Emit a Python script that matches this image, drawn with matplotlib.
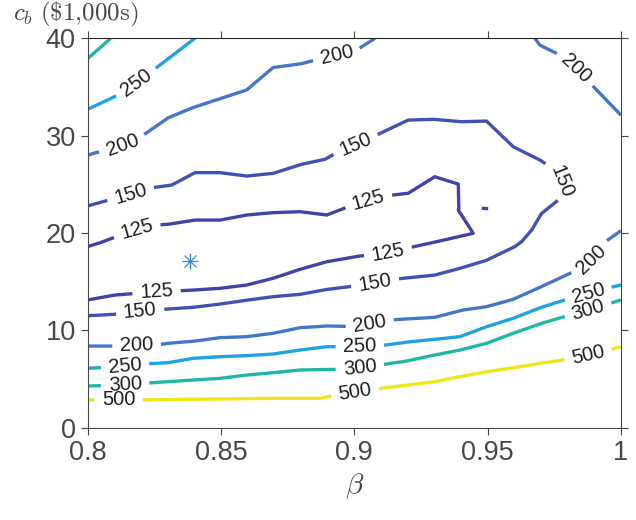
import matplotlib
matplotlib.use("Agg")
import matplotlib.pyplot as plt
from matplotlib.contour import ContourSet
import numpy as np

plt.rcParams["mathtext.fontset"] = "cm"

# ---- data: contour levels and their traced paths (beta, c_b) ----
levels = [125, 150, 200, 250, 300, 500]

# level 125: main open curve, plus a tiny island
b125_main = [0.8, 0.8047, 0.8184, 0.8259, 0.8303, 0.8403, 0.8497, 0.8597, 0.8696, 0.8797, 0.8897,
             0.8972, 0.9053, 0.9121, 0.9202, 0.9302, 0.9390, 0.9392, 0.9390, 0.9446,
             0.9309, 0.9196, 0.9127, 0.9065, 0.9021, 0.8897, 0.8797, 0.8696, 0.8597, 0.8497,
             0.8397, 0.8259, 0.8184, 0.8103, 0.8]
c125_main = [18.6, 19.0, 20.4, 20.82, 20.9, 21.33, 21.33, 21.85, 22.09, 22.19, 21.85,
             22.64, 23.4, 23.83, 24.08, 25.78, 25.03, 22.54, 22.36, 19.97,
             19.11, 18.43, 18.0, 17.74, 17.64, 17.05, 16.27, 15.35, 14.66, 14.32,
             14.14, 13.95, 13.8, 13.63, 13.12]
b125_isl = [0.9478, 0.9502]
c125_isl = [22.54, 22.5]

b150 = [0.8, 0.8159, 0.8228, 0.8316, 0.8403, 0.8497, 0.8597, 0.8696, 0.8803, 0.8890, 0.8940,
        0.9003, 0.9071, 0.9202, 0.9296, 0.9403, 0.9496, 0.9596, 0.9696, 0.9734, 0.9777,
        0.9796, 0.9702, 0.9665, 0.9627, 0.9602, 0.9496, 0.9396, 0.9302, 0.9146, 0.9078,
        0.9003, 0.8897, 0.8797, 0.8696, 0.8597, 0.8497, 0.8397, 0.8197, 0.8122, 0.8103, 0.8]
c150 = [22.77, 24.0, 24.6, 24.93, 26.2, 26.2, 25.85, 26.13, 27.06, 27.57, 28.35,
        29.1, 29.9, 31.6, 31.68, 31.43, 31.5, 28.86, 27.5, 26.8, 25.4,
        24.08, 22.0, 20.3, 19.1, 18.6, 17.2, 16.37, 15.68, 15.24, 14.9,
        14.56, 14.2, 13.7, 13.46, 13.1, 12.7, 12.37, 12.0, 11.75, 11.65, 11.5]

b200_top = [0.8, 0.8128, 0.8197, 0.8303, 0.8397, 0.8497, 0.8597, 0.8696, 0.8803, 0.8872,
            0.8934, 0.9003, 0.9078]
c200_top = [28.0, 29.0, 29.83, 31.84, 32.9, 33.8, 34.7, 37.0, 37.4, 37.9,
            38.3, 38.7, 40.0]
b200_tr = [0.9677, 0.9696, 0.9777, 0.9827, 0.9877, 1.0]
c200_tr = [40.0, 39.3, 38.2, 37.0, 35.6, 32.1]
b200_low = [0.8, 0.811, 0.8184, 0.8259, 0.8303, 0.8403, 0.8497, 0.8597, 0.8696, 0.8797, 0.8897,
            0.8996, 0.9059, 0.9127, 0.9302, 0.9408, 0.9496, 0.9596, 0.9696, 0.9809, 0.989,
            0.9933, 1.0]
c200_low = [8.39, 8.39, 8.45, 8.5, 8.67, 8.9, 9.25, 9.35, 9.7, 10.27, 10.45,
            10.4, 10.7, 11.06, 11.34, 12.09, 12.43, 13.19, 14.42, 15.86, 17.3,
            18.94, 20.24]

b250_top = [0.8, 0.8128, 0.8184, 0.824, 0.8403]
c250_top = [32.7, 34.35, 35.4, 36.6, 40.0]
b250_low = [0.8, 0.8141, 0.8209, 0.8303, 0.8397, 0.8497, 0.8597, 0.8696, 0.8797, 0.8897,
            0.8946, 0.9021, 0.909, 0.9209, 0.9302, 0.9396, 0.9496, 0.9596, 0.9702, 0.9809,
            0.9877, 0.9946, 1.0]
c250_low = [6.1, 6.3, 6.54, 6.68, 7.13, 7.29, 7.4, 7.57, 7.98, 8.32,
            8.32, 8.35, 8.39, 8.83, 9.08, 9.35, 10.37, 11.24, 12.37, 13.29,
            13.8, 14.32, 14.66]

b300_top = [0.8, 0.8087]
c300_top = [37.9, 40.0]
b300_low = [0.8, 0.8141, 0.8209, 0.8303, 0.8397, 0.8497, 0.8597, 0.8696, 0.8797, 0.8946,
            0.9021, 0.9096, 0.9196, 0.9302, 0.9396, 0.9496, 0.9596, 0.9702, 0.9809, 0.9877,
            0.9952, 1.0]
c300_low = [4.28, 4.4, 4.56, 4.73, 4.9, 5.07, 5.41, 5.65, 5.93, 6.0,
            6.2, 6.44, 6.85, 7.47, 7.98, 8.67, 9.7, 10.72, 11.58, 12.1,
            12.71, 13.12]

b500 = [0.8, 0.8116, 0.819, 0.8497, 0.8696, 0.8872, 0.8934, 0.9003, 0.9071, 0.9302, 0.9396,
        0.9496, 0.9596, 0.9696, 0.9809, 0.9877, 0.9946, 1.0]
c500 = [2.85, 2.85, 2.85, 2.95, 3.02, 3.02, 3.36, 3.64, 3.94, 4.73, 5.24,
        5.75, 6.16, 6.61, 7.06, 7.47, 7.91, 8.32]

star_beta = [0.8384]
star_cb = [17.12]

xticks = [0.8, 0.85, 0.9, 0.95, 1.0]
xticklabels = ["0.8", "0.85", "0.9", "0.95", "1"]
yticks = [0, 10, 20, 30, 40]

# ---- styles ----
level_colors = ["#3f45a6", "#4252b3", "#4477c8", "#1fa3e1", "#1fb7a6", "#f2e51c"]
tick_color = "#474747"

def seg(b, c):
    return np.column_stack([b, c])

allsegs = [
    [seg(b125_main, c125_main), seg(b125_isl, c125_isl)],
    [seg(b150, c150)],
    [seg(b200_top, c200_top), seg(b200_tr, c200_tr), seg(b200_low, c200_low)],
    [seg(b250_top, c250_top), seg(b250_low, c250_low)],
    [seg(b300_top, c300_top), seg(b300_low, c300_low)],
    [seg(b500, c500)],
]

fig = plt.figure(figsize=(6.36, 5.20), dpi=100)
ax = fig.add_axes([0.1376, 0.1775, 0.8388, 0.7488])

cs = ContourSet(ax, levels, allsegs, colors=level_colors, linewidths=2.4)

label_pos = [
    (0.8184, 35.4), (0.8128, 29.2), (0.8934, 38.3), (0.9827, 36.8),
    (0.8159, 24.25), (0.9003, 29.2), (0.9777, 25.3), (0.9078, 14.9), (0.8197, 12.05),
    (0.8184, 20.45), (0.9053, 23.4), (0.9127, 18.0), (0.8259, 13.9),
    (0.8184, 8.4), (0.9059, 10.6), (0.989, 17.3),
    (0.8141, 6.3), (0.9021, 8.35), (0.9877, 13.8),
    (0.8141, 4.4), (0.9021, 6.2), (0.9877, 12.1),
    (0.8116, 2.85), (0.9003, 3.64), (0.9877, 7.47),
]
ax.set_xlim(0.8, 1.0)
ax.set_ylim(0, 40)
labels = ax.clabel(cs, manual=label_pos, inline=True, inline_spacing=5,
                   fontsize=14.5, colors="#1f1f1f", fmt="%d")
for t in labels:
    t.set_fontfamily("Liberation Sans")

ax.plot(star_beta, star_cb, marker="+", markersize=12, color="#2a8be0",
        linestyle="none", markeredgewidth=0.9)
ax.plot(star_beta, star_cb, marker="x", markersize=9, color="#2a8be0",
        linestyle="none", markeredgewidth=0.9)

ax.set_xticks(xticks)
ax.set_xticklabels(xticklabels)
ax.set_yticks(yticks)
ax.tick_params(direction="out", length=5, width=0.8, colors=tick_color,
               labelsize=19.5, top=True, right=True, labeltop=False, labelright=False)
for lab in ax.get_xticklabels() + ax.get_yticklabels():
    lab.set_fontfamily("Liberation Sans")
for name, sp in ax.spines.items():
    sp.set_color("#262626" if name == "top" else tick_color)
    sp.set_linewidth(0.8)

fig.text(0.02, 0.973, r"$c_b\ (\$1{,}000\mathrm{s})$", fontsize=18, color=tick_color,
         ha="left", va="center")
ax.set_xlabel(r"$\beta$", fontsize=21, color=tick_color, labelpad=4)

fig.savefig("out.png", dpi=100)
